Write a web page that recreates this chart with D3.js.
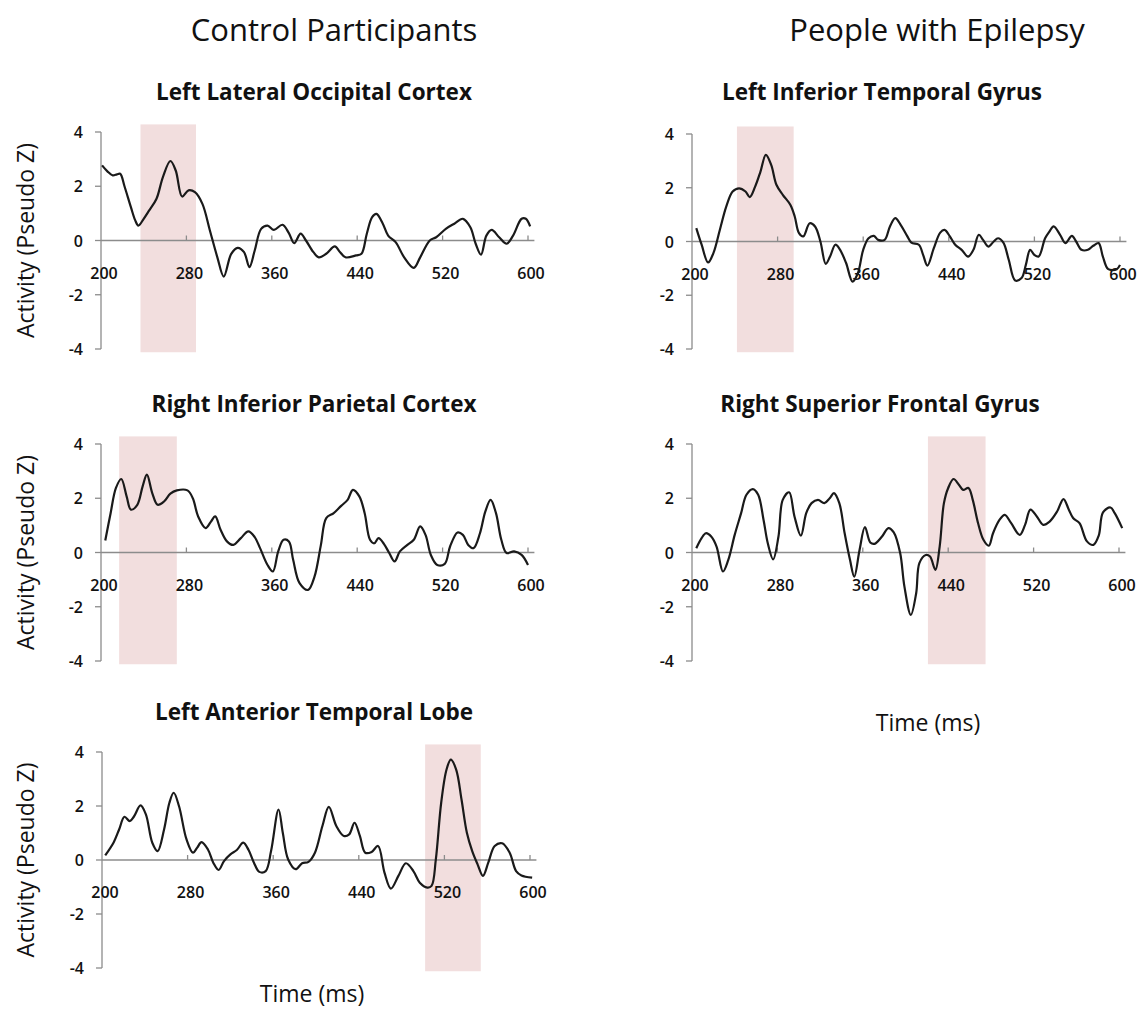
<!DOCTYPE html>
<html>
<head>
<meta charset="utf-8">
<script src="https://cdn.jsdelivr.net/npm/d3@7"></script>
<style>
  body { margin: 0; background: #fff; }
  svg text { font-family: "Open Sans", Lato, sans-serif; fill: #111; }
  .tick-label { font-size: 16px; font-weight: 600; }
  .panel-title { font-size: 22.5px; font-weight: 700; }
  .group-title { font-size: 31px; }
  .axis-title { font-size: 23px; }
</style>
</head>
<body>
<div id="chart"></div>
<script>
// ---- data (time in ms, activity in pseudo Z) ----
const groupTitles = ['Control Participants', 'People with Epilepsy'];
const panelTitles = [
  'Left Lateral Occipital Cortex',
  'Left Inferior Temporal Gyrus',
  'Right Inferior Parietal Cortex',
  'Right Superior Frontal Gyrus',
  'Left Anterior Temporal Lobe'
];
const xTicks = [200, 280, 360, 440, 520, 600];
const yTicks = [4, 2, 0, -2, -4];

// highlighted time windows [start, end]
const windows = [[237, 289], [242, 295], [217, 271], [421, 475], [502, 554]];

const leftLateralOccipital = [
  [201, 2.77], [206, 2.55], [211, 2.4], [215, 2.44], [218, 2.46], [222, 2.0], [228, 1.23],
  [232, 0.75], [235, 0.55], [240, 0.8], [245, 1.1], [252, 1.54], [258, 2.34], [265, 2.93],
  [270, 2.58], [276, 1.62], [282, 1.85], [288, 1.78], [295, 1.35], [302, 0.37], [309, -0.62],
  [315, -1.33], [322, -0.49], [328, -0.27], [334, -0.43], [339, -0.98], [344, -0.37],
  [350, 0.43], [356, 0.55], [362, 0.39], [370, 0.58], [376, 0.27], [381, -0.1], [387, 0.25],
  [392, 0.0], [399, -0.43], [404, -0.62], [411, -0.49], [419, -0.22], [424, -0.43],
  [429, -0.62], [439, -0.55], [444, -0.49], [449, 0.25], [454, 0.86], [458, 0.98],
  [464, 0.62], [469, 0.18], [476, -0.06], [484, -0.62], [493, -1.01], [499, -0.62],
  [508, 0.0], [514, 0.12], [523, 0.43], [531, 0.62], [539, 0.8], [546, 0.49], [551, -0.12],
  [556, -0.52], [561, 0.18], [566, 0.39], [573, 0.12], [580, -0.12], [586, 0.18],
  [594, 0.8], [598, 0.8], [602, 0.52]
];

const leftInferiorTemporal = [
  [204, 0.5], [209, -0.12], [215, -0.78], [220, -0.43], [226, 0.43], [232, 1.3], [238, 1.86],
  [244, 1.98], [250, 1.86], [254, 1.65], [259, 2.04], [264, 2.6], [269, 3.22], [274, 2.85],
  [279, 2.1], [285, 1.73], [292, 1.36], [296, 0.93], [300, 0.31], [304, 0.19], [310, 0.68],
  [315, 0.56], [320, 0.0], [325, -0.83], [329, -0.56], [334, -0.12], [338, -0.28],
  [344, -0.8], [350, -1.49], [355, -1.18], [360, -0.31], [365, 0.12], [370, 0.21],
  [374, 0.06], [380, 0.06], [385, 0.56], [390, 0.87], [395, 0.62], [401, 0.21], [405, -0.04],
  [412, -0.12], [416, -0.5], [420, -0.9], [426, -0.25], [432, 0.33], [436, 0.43],
  [441, 0.19], [446, -0.12], [452, -0.31], [458, -0.56], [463, -0.31], [468, 0.25],
  [472, 0.06], [477, -0.19], [482, 0.0], [486, 0.12], [491, -0.04], [496, -0.68],
  [502, -1.45], [508, -1.36], [512, -0.87], [516, -0.31], [520, -0.5], [524, -0.56],
  [530, 0.12], [534, 0.37], [538, 0.56], [544, 0.25], [549, -0.06], [555, 0.21],
  [559, 0.0], [564, -0.31], [570, -0.31], [575, -0.16], [580, -0.06], [584, -0.56],
  [589, -1.03], [597, -1.03], [600, -0.87]
];

const rightInferiorParietal = [
  [204, 0.44], [209, 1.45], [214, 2.38], [219, 2.71], [224, 2.07], [228, 1.58], [234, 1.76],
  [239, 2.44], [243, 2.87], [248, 2.19], [253, 1.76], [259, 1.88], [265, 2.17], [271, 2.29],
  [281, 2.29], [286, 2.0], [291, 1.33], [298, 0.9], [303, 1.14], [307, 1.33], [312, 0.84],
  [318, 0.41], [324, 0.28], [331, 0.53], [338, 0.78], [344, 0.57], [349, 0.16],
  [356, -0.46], [361, -0.7], [366, 0.04], [371, 0.47], [376, 0.41], [380, -0.27],
  [386, -1.13], [394, -1.38], [400, -0.89], [406, 0.28], [411, 1.27], [418, 1.45],
  [425, 1.72], [431, 1.94], [436, 2.31], [442, 2.07], [447, 1.45], [452, 0.47], [456, 0.34],
  [460, 0.53], [465, 0.32], [470, -0.02], [475, -0.33], [480, 0.04], [487, 0.28],
  [493, 0.47], [499, 0.96], [504, 0.65], [509, -0.09], [515, -0.46], [522, -0.42],
  [527, 0.22], [534, 0.74], [539, 0.65], [544, 0.28], [549, 0.16], [555, 0.71], [560, 1.51],
  [565, 1.94], [570, 1.45], [575, 0.47], [580, -0.02], [587, 0.04], [594, -0.09], [600, -0.46]
];

const rightSuperiorFrontal = [
  [204, 0.16], [209, 0.53], [213, 0.71], [218, 0.59], [223, 0.22], [229, -0.7], [234, -0.27],
  [240, 0.65], [246, 1.45], [251, 2.13], [257, 2.34], [262, 2.13], [267, 1.21], [271, 0.34],
  [276, -0.25], [281, 0.59], [285, 1.94], [291, 2.22], [296, 1.33], [302, 0.62], [307, 1.45],
  [312, 1.82], [318, 1.94], [324, 1.82], [329, 2.0], [333, 2.19], [338, 1.82], [343, 0.71],
  [348, -0.27], [352, -0.89], [357, 0.1], [362, 0.94], [367, 0.37], [371, 0.32], [378, 0.59],
  [384, 0.9], [389, 0.74], [395, -0.02], [399, -1.26], [405, -2.3], [410, -1.5],
  [413, -0.39], [419, -0.09], [423, -0.15], [428, -0.64], [432, 0.22], [436, 1.82],
  [440, 2.38], [445, 2.71], [450, 2.5], [454, 2.31], [459, 2.38], [463, 1.94], [468, 1.08],
  [473, 0.47], [478, 0.25], [482, 0.71], [488, 1.2], [493, 1.39], [499, 1.08], [507, 0.65],
  [512, 1.02], [517, 1.58], [523, 1.33], [529, 1.02], [535, 1.14], [542, 1.51], [548, 1.97],
  [553, 1.58], [557, 1.27], [563, 1.08], [570, 0.41], [576, 0.28], [581, 0.62], [585, 1.48],
  [592, 1.66], [596, 1.45], [603, 0.9]
];

const leftAnteriorTemporal = [
  [203, 0.17], [211, 0.66], [216, 1.13], [221, 1.6], [226, 1.44], [230, 1.62], [236, 2.02],
  [241, 1.69], [247, 0.64], [252, 0.33], [258, 1.13], [263, 2.12], [267, 2.49], [272, 1.99],
  [279, 0.76], [285, 0.27], [289, 0.46], [293, 0.66], [299, 0.39], [304, -0.1], [309, -0.37],
  [314, -0.04], [320, 0.21], [326, 0.37], [332, 0.64], [337, 0.37], [342, -0.1],
  [347, -0.44], [353, -0.41], [358, 0.33], [365, 1.87], [369, 1.0], [374, 0.02],
  [381, -0.34], [387, -0.12], [393, -0.07], [399, 0.27], [406, 1.26], [412, 1.97],
  [419, 1.26], [426, 0.89], [431, 0.95], [436, 1.38], [441, 0.89], [446, 0.27], [452, 0.3],
  [458, 0.52], [464, -0.47], [470, -1.06], [477, -0.59], [484, -0.12], [491, -0.41],
  [497, -0.84], [504, -1.02], [508, -0.96], [512, 0.02], [517, 2.12], [522, 3.35],
  [526, 3.72], [531, 3.35], [536, 2.24], [541, 1.01], [546, 0.33], [551, -0.16],
  [556, -0.59], [561, -0.1], [567, 0.52], [574, 0.62], [581, 0.27], [587, -0.41],
  [592, -0.57], [602, -0.65]
];

const series = [
  leftLateralOccipital,
  leftInferiorTemporal,
  rightInferiorParietal,
  rightSuperiorFrontal,
  leftAnteriorTemporal
];

// ---- layout ----
const width = 1147;
const height = 1009;

// plot boxes: x range for 200..600, y range for 4..-4
const boxes = [
  { x0: 101, x1: 528, y0: 132, y1: 349, titleX: 314, titleY: 100, yTitle: true },
  { x0: 692, x1: 1120, y0: 134, y1: 349, titleX: 882, titleY: 100, yTitle: false },
  { x0: 101, x1: 528, y0: 444, y1: 661, titleX: 314, titleY: 412, yTitle: true },
  { x0: 692, x1: 1119, y0: 444, y1: 661, titleX: 880, titleY: 412, yTitle: false },
  { x0: 102, x1: 530, y0: 752, y1: 968, titleX: 314, titleY: 720, yTitle: true }
];

const svg = d3
  .select('#chart')
  .append('svg')
  .attr('width', width)
  .attr('height', height);

svg
  .selectAll('text.group-title')
  .data(groupTitles)
  .enter()
  .append('text')
  .attr('class', 'group-title')
  .attr('x', (d, i) => (i === 0 ? 334 : 937))
  .attr('y', 41)
  .attr('text-anchor', 'middle')
  .text(d => d);

const line = d3.line().curve(d3.curveCatmullRom.alpha(0.5));

boxes.forEach((b, i) => {
  const x = d3.scaleLinear().domain([200, 600]).range([b.x0, b.x1]);
  const y = d3.scaleLinear().domain([4, -4]).range([b.y0, b.y1]);
  const g = svg.append('g');

  // highlighted window
  const [w0, w1] = windows[i];
  g.append('rect')
    .attr('x', x(w0))
    .attr('width', x(w1) - x(w0))
    .attr('y', y(4.28))
    .attr('height', y(-4.12) - y(4.28))
    .attr('fill', '#f2dede');

  // y axis
  g.append('line')
    .attr('x1', b.x0).attr('x2', b.x0)
    .attr('y1', y(4)).attr('y2', y(-4))
    .attr('stroke', '#8c8c8c')
    .attr('stroke-width', 1.3);
  g.selectAll('line.ytick')
    .data(yTicks)
    .enter()
    .append('line')
    .attr('x1', b.x0 - 6).attr('x2', b.x0)
    .attr('y1', d => y(d)).attr('y2', d => y(d))
    .attr('stroke', '#8c8c8c')
    .attr('stroke-width', 1.3);
  g.selectAll('text.ylab')
    .data(yTicks)
    .enter()
    .append('text')
    .attr('class', 'tick-label')
    .attr('x', b.x0 - 18)
    .attr('y', d => y(d) + 6)
    .attr('text-anchor', 'end')
    .text(d => d);

  // zero line + x ticks
  g.append('line')
    .attr('x1', b.x0).attr('x2', x(606))
    .attr('y1', y(0)).attr('y2', y(0))
    .attr('stroke', '#8c8c8c')
    .attr('stroke-width', 1.3);
  g.selectAll('line.xtick')
    .data(xTicks.slice(1))
    .enter()
    .append('line')
    .attr('x1', d => x(d)).attr('x2', d => x(d))
    .attr('y1', y(0) - 5).attr('y2', y(0))
    .attr('stroke', '#8c8c8c')
    .attr('stroke-width', 1.3);
  g.selectAll('text.xlab')
    .data(xTicks)
    .enter()
    .append('text')
    .attr('class', 'tick-label')
    .attr('x', d => x(d) + 3)
    .attr('y', y(0) + 38)
    .attr('text-anchor', 'middle')
    .attr('fill', d => (d >= windows[i][0] - 20 && d <= windows[i][1] + 20 && d !== 200 && d !== 600) ? '#5a4a55' : '#111')
    .text(d => d);

  // data line
  g.append('path')
    .attr('d', line(series[i].map(d => [x(d[0]), y(d[1])])))
    .attr('fill', 'none')
    .attr('stroke', '#1a1a1a')
    .attr('stroke-width', 2.2)
    .attr('stroke-linejoin', 'round');

  // titles
  g.append('text')
    .attr('class', 'panel-title')
    .attr('x', b.titleX)
    .attr('y', b.titleY)
    .attr('text-anchor', 'middle')
    .text(panelTitles[i]);

  if (b.yTitle) {
    g.append('text')
      .attr('class', 'axis-title')
      .attr('transform', `translate(34, ${(y(4) + y(-4)) / 2}) rotate(-90)`)
      .attr('text-anchor', 'middle')
      .text('Activity (Pseudo Z)');
  }
});

// x axis titles
svg
  .selectAll('text.time-title')
  .data([[312, 1002], [928, 731]])
  .enter()
  .append('text')
  .attr('class', 'axis-title')
  .attr('x', d => d[0])
  .attr('y', d => d[1])
  .attr('text-anchor', 'middle')
  .text('Time (ms)');
</script>
</body>
</html>
